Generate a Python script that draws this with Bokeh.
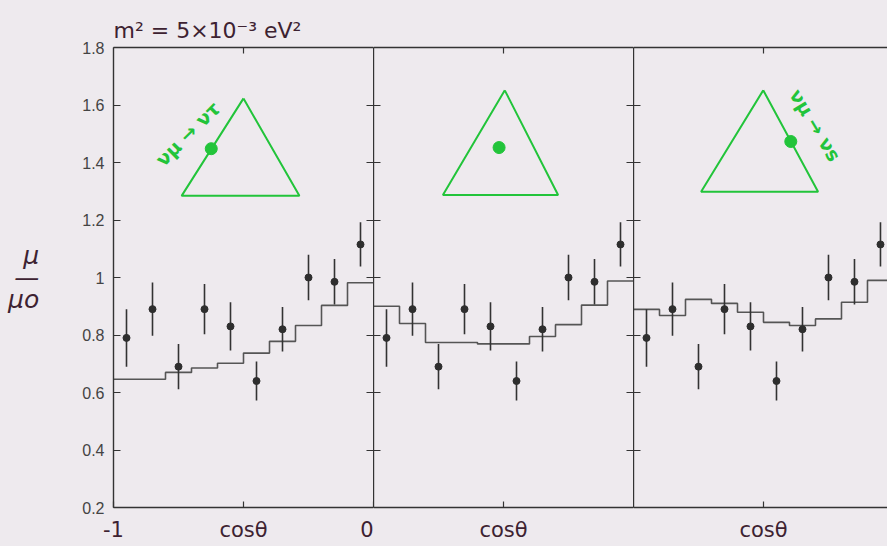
from bokeh.plotting import figure
from bokeh.layouts import row
from bokeh.models import (Range1d, LinearAxis, FixedTicker, Label,
                          PrintfTickFormatter, CustomJSTickFormatter)
from bokeh.embed import file_html
from bokeh.resources import INLINE

# ---------------- data ----------------
bin_edges = [-1.0, -0.9, -0.8, -0.7, -0.6, -0.5, -0.4, -0.3, -0.2, -0.1, 0.0]
cos_centers = [-0.95, -0.85, -0.75, -0.65, -0.55, -0.45, -0.35, -0.25, -0.15, -0.05]
data_ratio = [0.79, 0.89, 0.69, 0.89, 0.83, 0.64, 0.82, 1.00, 0.985, 1.115]
data_err = [0.10, 0.093, 0.079, 0.087, 0.084, 0.068, 0.077, 0.079, 0.079, 0.077]

pred_mu_tau = [0.646, 0.646, 0.670, 0.685, 0.702, 0.737, 0.778, 0.833, 0.903, 0.982]
pred_center = [0.900, 0.840, 0.774, 0.774, 0.769, 0.769, 0.795, 0.836, 0.904, 0.988]
pred_mu_s = [0.889, 0.868, 0.924, 0.910, 0.879, 0.844, 0.833, 0.856, 0.914, 0.990]

y_ticks = [0.2, 0.4, 0.6, 0.8, 1.0, 1.2, 1.4, 1.6, 1.8]
x_ticks_first = [-1.0, -0.5, 0.0]
x_labels_first = ["-1", "cosθ", "0"]
x_ticks_other = [-0.5]
x_labels_other = ["cosθ"]

# mixing triangles (in each panel's data coordinates)
tri_x = [[-0.500, -0.738, -0.285], [-0.495, -0.733, -0.290], [-0.501, -0.740, -0.290]]
tri_y = [[1.623, 1.284, 1.284], [1.651, 1.287, 1.287], [1.651, 1.298, 1.298]]
dot_x = [-0.624, -0.517, -0.395]
dot_y = [1.448, 1.452, 1.473]
mix_text = ["νμ → ντ", None, "νμ → νs"]
mix_text_x = [-0.715, None, -0.300]
mix_text_y = [1.50, None, 1.53]
mix_text_angle = [45, None, -59]

title_text = "m² = 5×10⁻³ eV²"
y_label = "μ\n—\nμo"

# ---------------- style ----------------
BG = "#eeeaee"
INK = "#333333"
HAND = "#3d2231"
GREEN = "#22c43a"
HEIGHT = 546
TOP = 47
BOTTOM = HEIGHT - 507

blank = CustomJSTickFormatter(code="return ''")


def style(ax, labels=False):
    ax.major_tick_in = 7
    ax.major_tick_out = 0
    ax.minor_tick_line_color = None
    ax.axis_line_color = INK
    ax.axis_line_width = 1.4
    ax.major_tick_line_color = INK
    ax.major_tick_line_width = 1.2
    if not labels:
        ax.formatter = blank
        ax.major_label_standoff = 0
        ax.major_label_text_font_size = "2px"


def make_panel(width, min_left, preds, k, x_end, first, right_axis):
    p = figure(width=width, height=HEIGHT,
               x_range=Range1d(-1.0, x_end), y_range=Range1d(0.2, 1.8),
               output_backend="svg", toolbar_location=None,
               x_axis_location=None, y_axis_location=None,
               min_border_left=min_left, min_border_right=0,
               min_border_top=TOP, min_border_bottom=BOTTOM,
               background_fill_color=BG, border_fill_color=BG,
               outline_line_color=None,
               styles={"background-color": BG})
    p.xgrid.visible = False
    p.ygrid.visible = False

    left = LinearAxis(ticker=FixedTicker(ticks=y_ticks))
    if first:
        style(left, labels=True)
        left.formatter = PrintfTickFormatter(format="%g")
        left.major_label_text_font = "Liberation Sans"
        left.major_label_text_font_size = "16px"
        left.major_label_text_color = "#444444"
        left.major_label_standoff = 9
        left.axis_label = y_label
        left.axis_label_orientation = "horizontal"
        left.axis_label_text_font = "DejaVu Sans"
        left.axis_label_text_font_size = "25px"
        left.axis_label_text_font_style = "italic"
        left.axis_label_text_color = HAND
        left.axis_label_text_line_height = 0.75
        left.axis_label_standoff = 40
    else:
        style(left)
    p.add_layout(left, "left")

    if right_axis:
        right = LinearAxis(ticker=FixedTicker(ticks=y_ticks))
        style(right)
        right.axis_line_color = None
        p.add_layout(right, "right")

    ticks = x_ticks_first if first else x_ticks_other
    labels = x_labels_first if first else x_labels_other
    below = LinearAxis(ticker=FixedTicker(ticks=ticks))
    style(below, labels=True)
    below.major_tick_in = 6
    below.major_label_overrides = {t: s for t, s in zip(ticks, labels)}
    below.major_label_text_font = "DejaVu Sans"
    below.major_label_text_font_size = "21px"
    below.major_label_text_color = HAND
    below.major_label_standoff = 10
    p.add_layout(below, "below")

    above = LinearAxis(ticker=FixedTicker(ticks=x_ticks_other))
    style(above)
    above.major_tick_in = 6
    p.add_layout(above, "above")

    # prediction histogram
    p.step(x=bin_edges, y=preds + [preds[-1]], mode="after",
           line_color="#555555", line_width=1.6)

    # data with errors
    lo = [v - e for v, e in zip(data_ratio, data_err)]
    hi = [v + e for v, e in zip(data_ratio, data_err)]
    p.segment(x0=cos_centers, y0=lo, x1=cos_centers, y1=hi,
              line_color=INK, line_width=1.6)
    p.scatter(x=cos_centers, y=data_ratio, size=7,
              fill_color="#2e2e2e", line_color="#2e2e2e")

    # mixing triangle
    p.line(x=tri_x[k] + [tri_x[k][0]], y=tri_y[k] + [tri_y[k][0]],
           line_color=GREEN, line_width=2)
    p.scatter(x=[dot_x[k]], y=[dot_y[k]], size=12,
              fill_color=GREEN, line_color=GREEN)
    if mix_text[k]:
        p.add_layout(Label(x=mix_text_x[k], y=mix_text_y[k], text=mix_text[k],
                           angle=mix_text_angle[k], angle_units="deg",
                           text_align="center", text_baseline="middle",
                           text_color=GREEN, text_font="DejaVu Sans",
                           text_font_size="19px", text_font_style="bold"))
    return p


p1 = make_panel(373, 113, pred_mu_tau, 0, 0.0, True, True)
p2 = make_panel(260, 0, pred_center, 1, 0.0, False, True)
p3 = make_panel(254, 0, pred_mu_s, 2, -0.023, False, False)

p1.title.text = title_text
p1.title.align = "left"
p1.title.text_font = "DejaVu Sans"
p1.title.text_font_size = "22px"
p1.title.text_font_style = "normal"
p1.title.text_color = HAND

layout = row(p1, p2, p3, spacing=0, styles={"background-color": BG})

html = file_html(layout, INLINE)
html = html.replace("<body>", '<body style="background-color:#eeeaee;">', 1)
with open("out.html", "w") as f:
    f.write(html)
